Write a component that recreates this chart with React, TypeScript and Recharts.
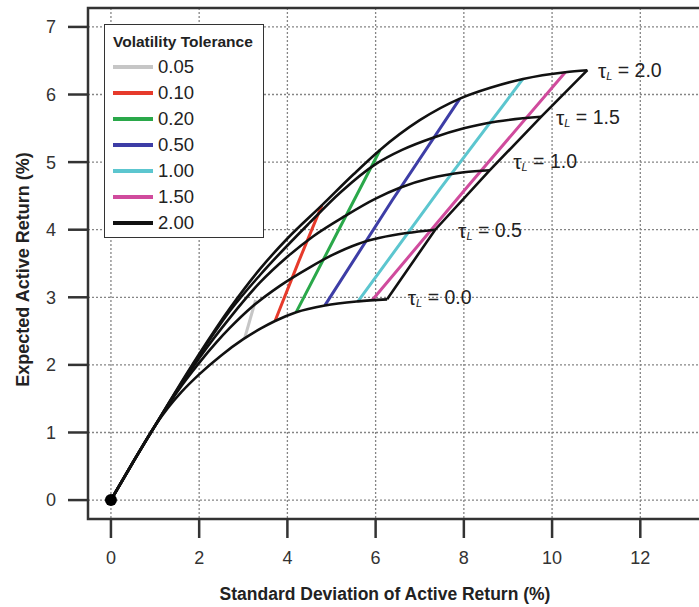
import React from "react";
import {
  LineChart, Line, XAxis, YAxis, CartesianGrid, Legend, Label,
  ReferenceArea, ReferenceDot, Scatter,
} from "recharts";

// efficient frontiers, one per leverage tolerance tau_L  [sd, return]
const frontierTau00 = [
  [0, 0], [0.5, 0.56], [1.0, 1.1], [1.3, 1.37], [1.6, 1.6], [2.0, 1.86], [2.5, 2.14],
  [3.0, 2.38], [3.4, 2.54], [3.72, 2.65], [4.2, 2.78], [4.85, 2.88], [5.6, 2.94], [6.26, 2.97],
];
const frontierTau05 = [
  [0, 0], [0.5, 0.56], [1.0, 1.1], [1.5, 1.6], [2.0, 2.03], [2.4, 2.34], [2.7, 2.55],
  [3.2, 2.86], [3.83, 3.17], [4.5, 3.44], [5.0, 3.62], [5.6, 3.79], [6.1, 3.88], [6.7, 3.95], [7.35, 4.0],
];
const frontierTau10 = [
  [0, 0], [0.5, 0.56], [1.0, 1.1], [1.5, 1.62], [2.0, 2.1], [2.7, 2.7], [3.38, 3.22],
  [4.0, 3.6], [4.58, 3.9], [5.3, 4.2], [6.0, 4.46], [6.55, 4.62], [7.23, 4.76], [8.0, 4.85], [8.59, 4.88],
];
const frontierTau15 = [
  [0, 0], [0.5, 0.56], [1.0, 1.1], [1.5, 1.63], [2.0, 2.14], [2.7, 2.8], [3.38, 3.33],
  [4.5, 4.1], [5.2, 4.55], [6.0, 4.97], [6.6, 5.18], [7.3, 5.36], [8.0, 5.5], [8.75, 5.6], [9.75, 5.67],
];
const frontierTau20 = [
  [0, 0], [0.5, 0.56], [1.0, 1.1], [1.5, 1.64], [2.0, 2.16], [2.7, 2.84], [3.38, 3.42],
  [4.0, 3.87], [4.78, 4.36], [5.5, 4.82], [6.1, 5.18], [7.0, 5.62], [7.91, 5.94], [8.6, 6.1],
  [9.34, 6.23], [10.3, 6.33], [10.8, 6.36],
];

// lines of equal volatility tolerance across the frontiers
const vol005 = [[3.03, 2.39], [3.28, 2.96]];
const vol010 = [[3.72, 2.65], [4.25, 3.52], [4.78, 4.36]];
const vol020 = [[4.2, 2.78], [5.15, 3.98], [6.1, 5.18]];
const vol050 = [[4.85, 2.88], [6.38, 4.44], [7.91, 5.94]];
const vol100 = [[5.6, 2.94], [7.47, 4.61], [9.34, 6.23]];
const vol150 = [[5.92, 2.955], [8.1, 4.65], [10.3, 6.33]];
const vol200 = [[6.26, 2.97], [7.35, 4.0], [8.59, 4.88], [9.75, 5.67], [10.8, 6.36]];

const volLabels = ["0.05", "0.10", "0.20", "0.50", "1.00", "1.50", "2.00"];
const volColors = ["#c6c6c6", "#e63a2b", "#2aa84a", "#3d3da6", "#5cc6cf", "#d04b9d", "#111111"];

const tauLabelText = ["0.0", "0.5", "1.0", "1.5", "2.0"];
const tauLabelX = [6.73, 7.87, 9.12, 10.09, 11.04];
const tauLabelY = [3.0, 4.0, 5.01, 5.67, 6.36];

const xTicks = [0, 2, 4, 6, 8, 10, 12];
const yTicks = [0, 1, 2, 3, 4, 5, 6, 7];

const FONT = "'Liberation Sans', Arial, sans-serif";
const toPts = (arr: number[][]) => arr.map(([x, y]) => ({ x, y }));

const frontiers = [frontierTau00, frontierTau05, frontierTau10, frontierTau15, frontierTau20];
const volLines = [vol005, vol010, vol020, vol050, vol100, vol150, vol200];
const tauLabels = tauLabelText.map((t, i) => ({ x: tauLabelX[i], y: tauLabelY[i], t }));

const LegendBox = () => (
  <div
    style={{
      width: 160, height: 214, boxSizing: "border-box", border: "1px solid #333",
      background: "#fff", padding: "8px 0 0 8px", fontFamily: FONT, color: "#222",
    }}
  >
    <div style={{ fontWeight: 700, fontSize: 15.5, height: 18, lineHeight: "18px", whiteSpace: "nowrap" }}>
      Volatility Tolerance
    </div>
    <div style={{ marginTop: 3 }}>
      {volLabels.map((l, i) => (
        <div key={l} style={{ display: "flex", alignItems: "center", height: 26 }}>
          <span style={{ display: "inline-block", width: 40, height: 3.5, background: volColors[i] }} />
          <span style={{ marginLeft: 5, fontSize: 18.5 }}>{l}</span>
        </div>
      ))}
    </div>
  </div>
);

const TauLabel = (props: any) => {
  const { cx, cy, payload } = props;
  return (
    <text x={cx} y={cy} dominantBaseline="central" fontFamily={FONT} fontSize={19.5} fill="#222">
      <tspan fontSize={21}>τ</tspan>
      <tspan fontSize={11} fontStyle="italic" dy={6}>L</tspan>
      <tspan dy={-6}>{` = ${payload.t}`}</tspan>
    </text>
  );
};

export default function App() {
  return (
    <div
      style={{
        position: "fixed", left: 0, top: 0, width: 699, height: 607,
        overflow: "hidden", background: "#fff",
      }}
    >
      <LineChart width={760} height={607} margin={{ top: 8, right: 20, left: 0, bottom: 0 }}>
        <CartesianGrid stroke="#858585" strokeDasharray="2 2" strokeWidth={1.3} />
        <XAxis
          type="number"
          dataKey="x"
          domain={[-0.52, 14.26]}
          allowDataOverflow
          ticks={xTicks}
          height={88}
          axisLine={false}
          tickSize={19}
          tickMargin={13}
          tickLine={{ stroke: "#333", strokeWidth: 2.5 }}
          tick={{ fontSize: 18, fill: "#333", fontFamily: FONT }}
        >
          <Label
            value="Standard Deviation of Active Return (%)"
            position="insideBottom"
            offset={7}
            dx={-29}
            style={{ fontSize: 17.5, fontWeight: 700, fill: "#222", fontFamily: FONT }}
          />
        </XAxis>
        <YAxis
          type="number"
          dataKey="y"
          domain={[-0.28, 7.28]}
          allowDataOverflow
          ticks={yTicks}
          width={88}
          axisLine={false}
          tickSize={20}
          tickMargin={12}
          tickLine={{ stroke: "#333", strokeWidth: 2.5 }}
          tick={{ fontSize: 18, fill: "#333", fontFamily: FONT }}
        >
          <Label
            value="Expected Active Return (%)"
            position="center"
            angle={-90}
            dx={-21}
            dy={6}
            style={{ fontSize: 18, fontWeight: 700, fill: "#222", fontFamily: FONT }}
          />
        </YAxis>
        <ReferenceArea
          x1={-0.52} x2={14.26} y1={-0.28} y2={7.28}
          fill="none" stroke="#333" strokeWidth={2.5} fillOpacity={0}
        />
        {volLines.map((d, i) => (
          <Line
            key={`v${i}`}
            data={toPts(d)}
            dataKey="y"
            type="linear"
            stroke={volColors[i]}
            strokeWidth={i === 6 ? 2.6 : 3}
            dot={false}
            activeDot={false}
            isAnimationActive={false}
          />
        ))}
        {frontiers.map((d, i) => (
          <Line
            key={`f${i}`}
            data={toPts(d)}
            dataKey="y"
            type="monotone"
            stroke="#111"
            strokeWidth={2.6}
            dot={false}
            activeDot={false}
            isAnimationActive={false}
          />
        ))}
        <ReferenceDot x={0} y={0} r={6} fill="#000" stroke="none" />
        <Scatter data={tauLabels} dataKey="y" shape={<TauLabel />} isAnimationActive={false} />
        <Legend
          layout="horizontal"
          verticalAlign="middle"
          align="center"
          content={<LegendBox />}
          wrapperStyle={{ left: 104, top: 24, width: 160, height: 214 }}
        />
      </LineChart>
    </div>
  );
}
